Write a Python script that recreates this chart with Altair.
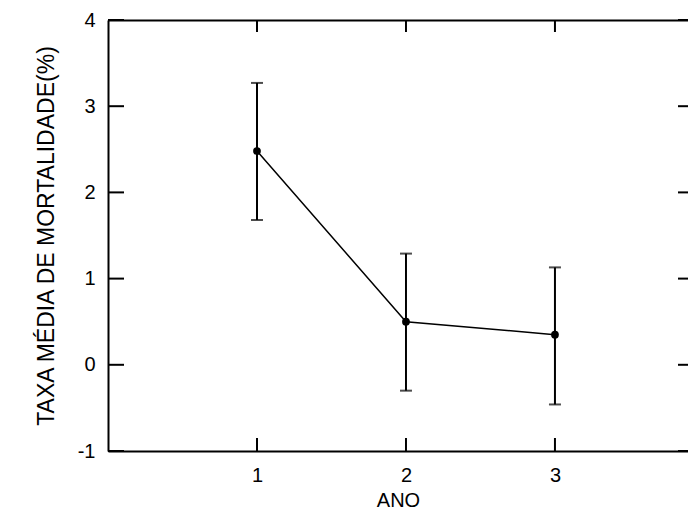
import altair as alt
import pandas as pd

# Data
ano = [1, 2, 3]
taxa = [2.48, 0.50, 0.35]
taxa_min = [1.68, -0.30, -0.46]
taxa_max = [3.27, 1.29, 1.13]

x_ticks = [1, 2, 3]
y_ticks = [-1, 0, 1, 2, 3, 4]

W, H = 580, 431
FONT = "Liberation Sans"

df = pd.DataFrame({"ano": ano, "taxa": taxa, "lo": taxa_min, "hi": taxa_max})
dfx = pd.DataFrame({"t": x_ticks})
dfy = pd.DataFrame({"t": y_ticks})

xs = alt.Scale(domain=[0, 3.893], nice=False, zero=False)
ys = alt.Scale(domain=[-1, 4], nice=False, zero=False)

x_axis_bottom = alt.Axis(values=x_ticks, labelExpr="'' + datum.value", ticks=False, grid=False,
                         domainColor="black", domainWidth=2,
                         labelFont=FONT, labelFontSize=20, labelColor="black",
                         labelPadding=14, title="ANO", titleFont=FONT,
                         titleFontSize=20, titleFontWeight="normal",
                         titleColor="black", titlePadding=5)
y_axis_left = alt.Axis(values=y_ticks, labelExpr="'' + datum.value", ticks=False, grid=False,
                       domainColor="black", domainWidth=2,
                       labelFont=FONT, labelFontSize=20, labelColor="black",
                       labelPadding=13, title="TAXA MÉDIA DE MORTALIDADE(%)",
                       titleFont=FONT, titleFontSize=23, titleFontWeight="normal",
                       titleColor="black", titlePadding=19)

base = alt.Chart(df)

line = base.mark_line(color="black", strokeWidth=1.5).encode(
    x=alt.X("ano:Q", scale=xs, axis=x_axis_bottom),
    y=alt.Y("taxa:Q", scale=ys, axis=y_axis_left),
)
pts = base.mark_circle(color="black", opacity=1, size=60).encode(
    x=alt.X("ano:Q", scale=xs, axis=None),
    y=alt.Y("taxa:Q", scale=ys, axis=None),
)
bars = base.mark_rule(color="black", strokeWidth=2).encode(
    x=alt.X("ano:Q", scale=xs, axis=None),
    y=alt.Y("lo:Q", scale=ys, axis=None),
    y2="hi:Q",
)
cap_lo = base.mark_tick(color="black", orient="horizontal", size=12, thickness=2).encode(
    x=alt.X("ano:Q", scale=xs, axis=None),
    y=alt.Y("lo:Q", scale=ys, axis=None),
)
cap_hi = base.mark_tick(color="black", orient="horizontal", size=12, thickness=2).encode(
    x=alt.X("ano:Q", scale=xs, axis=None),
    y=alt.Y("hi:Q", scale=ys, axis=None),
)

# top frame line (axis domain only)
top_frame = alt.Chart(dfx).mark_point(opacity=0).encode(
    x=alt.X("t:Q", scale=xs, axis=alt.Axis(orient="top", labels=False, ticks=False,
                                           grid=False, title=None, domainColor="black",
                                           domainWidth=2)),
)

# inward ticks
bt = alt.Chart(dfx).mark_rule(color="black", strokeWidth=2).encode(
    x=alt.X("t:Q", scale=xs, axis=None), y=alt.value(H - 13), y2=alt.value(H))
tt = alt.Chart(dfx).mark_rule(color="black", strokeWidth=2).encode(
    x=alt.X("t:Q", scale=xs, axis=None), y=alt.value(0), y2=alt.value(12))
lt = alt.Chart(dfy).mark_rule(color="black", strokeWidth=2).encode(
    y=alt.Y("t:Q", scale=ys, axis=None), x=alt.value(0), x2=alt.value(16))
rt = alt.Chart(dfy).mark_rule(color="black", strokeWidth=2).encode(
    y=alt.Y("t:Q", scale=ys, axis=None), x=alt.value(W - 10), x2=alt.value(W))

chart = alt.layer(line, bars, cap_lo, cap_hi, pts, top_frame, bt, tt, lt, rt).resolve_axis(
    x="independent", y="independent"
).properties(
    width=W, height=H,
    autosize=alt.AutoSizeParams(type="none"),
    padding={"left": 100, "top": 12, "right": 0, "bottom": 59},
    background="white",
).configure_view(stroke=None)

chart.save("out.html", embed_options={"renderer": "svg", "actions": False})
